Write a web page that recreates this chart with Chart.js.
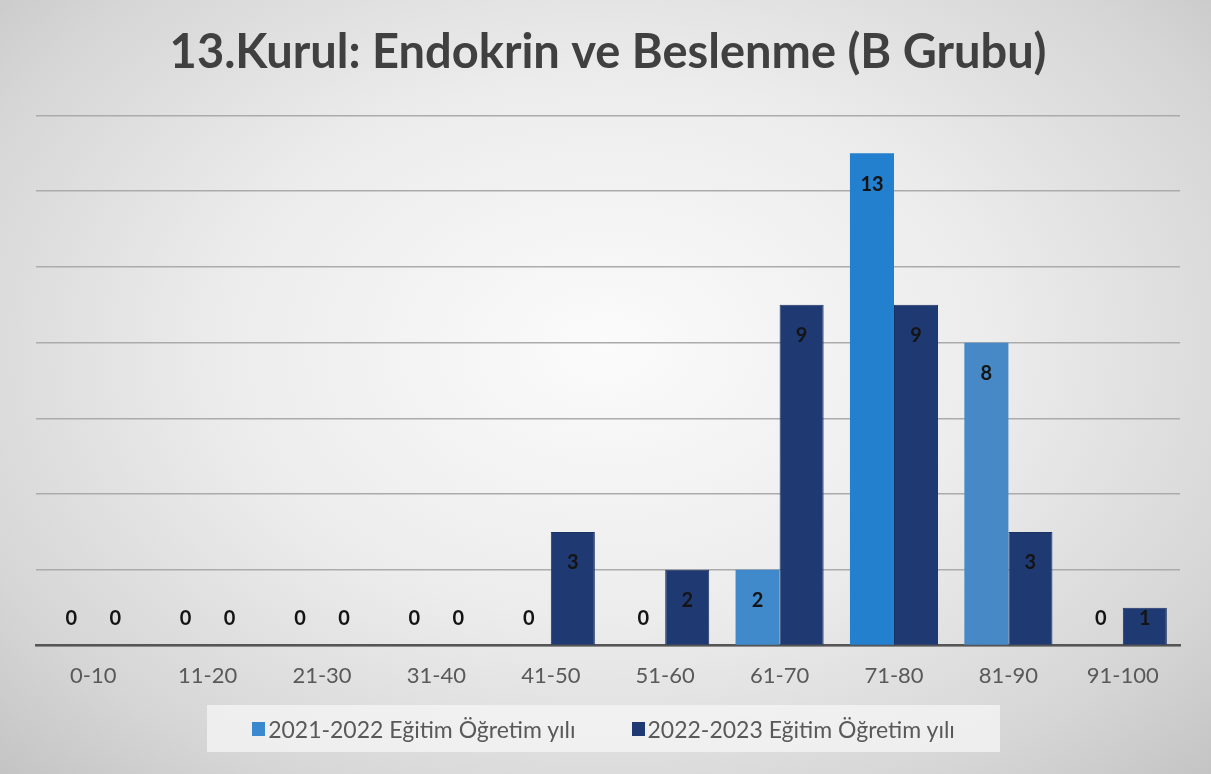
<!DOCTYPE html>
<html>
<head>
<meta charset="utf-8">
<script src="https://cdn.jsdelivr.net/npm/chart.js@4.4.0/dist/chart.umd.min.js"></script>
<style>
  html, body { margin: 0; padding: 0; }
  body {
    width: 1211px; height: 774px; overflow: hidden;
    background: radial-gradient(ellipse at 50% 45%, #fbfbfb 0%, #ececec 45%, #d6d6d6 80%, #c4c4c4 100%);
    font-family: Lato, "Open Sans", sans-serif;
  }
  #wrap { position: relative; width: 1211px; height: 774px; }
  #legend {
    position: absolute; left: 207px; top: 705px; width: 793px; height: 47px;
    background: rgba(246,246,246,0.75);
    display: flex; justify-content: center; align-items: center; gap: 56px;
    color: #595959; font-size: 23px;
  }
  #legend span.item { display: flex; align-items: center; }
  #legend i { display: inline-block; width: 13px; height: 14px; margin-right: 3px; }
</style>
</head>
<body>
<div id="wrap">
  <canvas id="myChart" width="1211" height="774"></canvas>
  <div id="legend"></div>
</div>
<script>
// data
const categories = ['0-10', '11-20', '21-30', '31-40', '41-50', '51-60', '61-70', '71-80', '81-90', '91-100'];
const seriesNames = ['2021-2022 Eğitim Öğretim yılı', '2022-2023 Eğitim Öğretim yılı'];
const values2122 = [0, 0, 0, 0, 0, 0, 2, 13, 8, 0];
const values2223 = [0, 0, 0, 0, 3, 2, 9, 9, 3, 1];
const yTicks = [0, 2, 4, 6, 8, 10, 12, 14];

const lightColors = ['#3d87ca', '#3d87ca', '#3d87ca', '#3d87ca', '#3d87ca', '#3d87ca', '#4089cb', '#2280cf', '#4689c6', '#3d87ca'];
const lightLegend = '#3a88cd';
const darkColor = '#1f3a72';
const FONT = 'Lato, "Open Sans", sans-serif';

// value labels, drawn inside the end of each bar (like excel "inside end")
const barLabels = {
    id: 'barLabels',
    afterDatasetsDraw(chart) {
        const ctx = chart.ctx
        const base = chart.scales.y.getPixelForValue(0)
        ctx.save()
        ctx.font = 'bold 20px ' + FONT
        ctx.fillStyle = '#141414'
        ctx.textAlign = 'center'
        ctx.textBaseline = 'middle'
        chart.data.datasets.forEach((ds, i) => {
            chart.getDatasetMeta(i).data.forEach((bar, j) => {
                const y = Math.min(bar.y + 31, base - 27)
                ctx.fillText(String(ds.data[j]), bar.x, y)
            })
        })
        ctx.restore()
    }
}

const myChart = new Chart(document.getElementById('myChart'), {
    type: 'bar',
    data: {
        labels: categories,
        datasets: [{
            label: seriesNames[0],
            data: values2122,
            backgroundColor: lightColors,
            categoryPercentage: 0.77,
            barPercentage: 1.0
        }, {
            label: seriesNames[1],
            data: values2223,
            backgroundColor: darkColor,
            borderColor: '#1a3164',
            borderWidth: 1,
            categoryPercentage: 0.77,
            barPercentage: 1.0
        }]
    },
    options: {
        responsive: false,
        animation: false,
        layout: { padding: { left: 36, right: 31, top: 8, bottom: 68 } },
        scales: {
            x: {
                grid: { display: false, drawTicks: false },
                border: { display: true, color: '#555555', width: 2.5 },
                ticks: { color: '#595959', font: { family: FONT, size: 22 }, padding: 17 }
            },
            y: {
                min: 0,
                max: 14,
                afterBuildTicks: axis => { axis.ticks = yTicks.map(v => ({ value: v })) },
                ticks: { display: false },
                border: { display: false },
                grid: { color: '#ababab', lineWidth: 1.5, drawTicks: false }
            }
        },
        plugins: {
            title: {
                display: true,
                text: '13.Kurul: Endokrin ve Beslenme (B Grubu)',
                color: '#404040',
                font: { family: FONT, size: 47, weight: 'bold' },
                padding: { top: 17, bottom: 34 }
            },
            legend: { display: false },
            tooltip: { enabled: false }
        }
    },
    plugins: [barLabels]
});

// legend as html, colours taken from the datasets
const legendEl = document.getElementById('legend')
myChart.data.datasets.forEach((ds, i) => {
    const item = document.createElement('span')
    item.className = 'item'
    const sw = document.createElement('i')
    sw.style.background = i === 0 ? lightLegend : darkColor
    item.appendChild(sw)
    item.appendChild(document.createTextNode(ds.label))
    legendEl.appendChild(item)
})
</script>
</body>
</html>
